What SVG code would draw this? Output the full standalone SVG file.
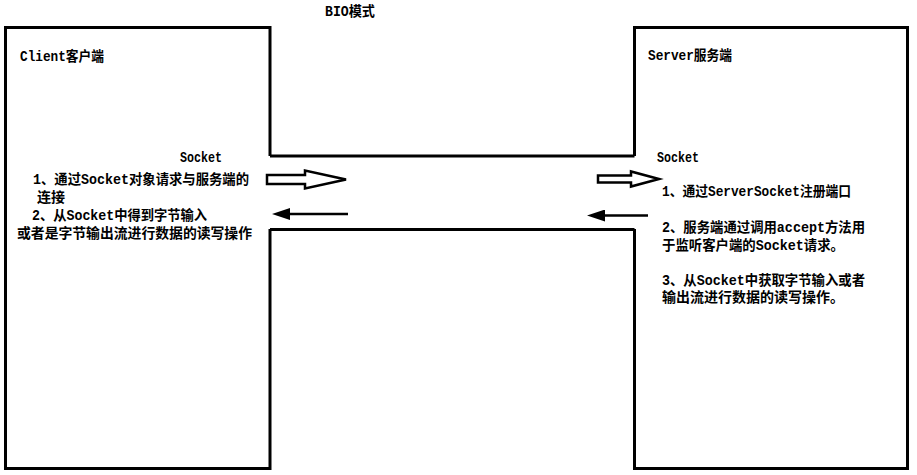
<svg xmlns="http://www.w3.org/2000/svg" width="917" height="475" viewBox="0 0 917 475">
  <style>
    .t { font-family: "Liberation Mono", "Noto Sans CJK SC", monospace; font-size: 14px; font-weight: bold; fill: #000; }
    .box { fill: none; stroke: #000; stroke-width: 3; stroke-linejoin: miter; }
    .wall { fill: none; stroke: #000; stroke-width: 3; }
    .hollow { fill: #fff; stroke: #000; stroke-width: 2.5; stroke-linejoin: miter; }
    .solid { fill: none; stroke: #000; stroke-width: 2.5; marker-end: url(#head); }
  </style>
  <defs>
    <marker id="head" viewBox="0 0 18 12" markerWidth="18" markerHeight="12" refX="1" refY="6" orient="auto" markerUnits="userSpaceOnUse">
      <path d="M0,0 L18,6 L0,12 z" fill="#000"/>
    </marker>
  </defs>
  <rect width="917" height="475" fill="#fff"/>

  <g id="title">
    <text class="t" x="325" y="16" textLength="50" lengthAdjust="spacingAndGlyphs">BIO模式</text>
  </g>

  <g id="client">
    <path class="box" d="M270,156 L270,27.5 L5.5,27.5 L5.5,468.5 L270,468.5 L270,229"/>
    <text class="t" x="20" y="61" textLength="84" lengthAdjust="spacingAndGlyphs">Client客户端</text>
    <text class="t" x="180" y="162" textLength="42" lengthAdjust="spacingAndGlyphs">Socket</text>
    <text class="t" x="33" y="184" textLength="216" lengthAdjust="spacingAndGlyphs">1、通过Socket对象请求与服务端的</text>
    <text class="t" x="37" y="202" textLength="28" lengthAdjust="spacingAndGlyphs">连接</text>
    <text class="t" x="32" y="220" textLength="175" lengthAdjust="spacingAndGlyphs">2、从Socket中得到字节输入</text>
    <text class="t" x="17" y="238" textLength="235" lengthAdjust="spacingAndGlyphs">或者是字节输出流进行数据的读写操作</text>
  </g>

  <g id="server">
    <path class="box" d="M634.5,156 L634.5,27.5 L907.5,27.5 L907.5,468.5 L634.5,468.5 L634.5,229"/>
    <text class="t" x="648" y="60" textLength="84" lengthAdjust="spacingAndGlyphs">Server服务端</text>
    <text class="t" x="657" y="162" textLength="42" lengthAdjust="spacingAndGlyphs">Socket</text>
    <text class="t" x="662" y="196" textLength="189" lengthAdjust="spacingAndGlyphs">1、通过ServerSocket注册端口</text>
    <text class="t" x="662" y="232" textLength="203" lengthAdjust="spacingAndGlyphs">2、服务端通过调用accept方法用</text>
    <text class="t" x="662" y="250" textLength="182" lengthAdjust="spacingAndGlyphs">于监听客户端的Socket请求。</text>
    <text class="t" x="662" y="285" textLength="203" lengthAdjust="spacingAndGlyphs">3、从Socket中获取字节输入或者</text>
    <text class="t" x="662" y="302" textLength="182" lengthAdjust="spacingAndGlyphs">输出流进行数据的读写操作。</text>
  </g>

  <g id="connectors">
    <path class="wall" d="M270,156 H634.5"/>
    <path class="wall" d="M270,229.5 H634.5"/>
    <polygon class="hollow" points="267,175 305,175 305,170.5 346,179.5 305,188.5 305,184 267,184"/>
    <polygon class="hollow" points="598,175.5 631,175.5 631,171.5 659,179 631,186.5 631,182.5 598,182.5"/>
    <path class="solid" d="M348,214 H289"/>
    <path class="solid" d="M648,215.5 H604"/>
  </g>
</svg>
